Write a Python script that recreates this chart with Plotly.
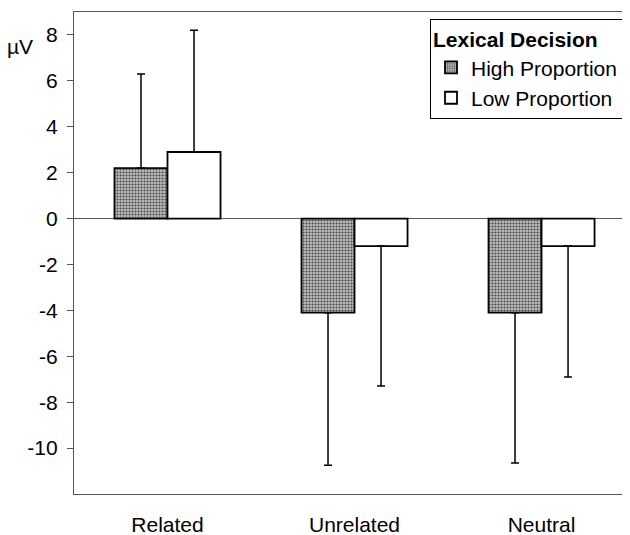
import plotly.graph_objects as go

categories = ["Related", "Unrelated", "Neutral"]
high_values = [2.2, -4.1, -4.1]
low_values = [2.9, -1.2, -1.2]
high_err_plus = [4.1, 0, 0]
high_err_minus = [0, 6.65, 6.55]
low_err_plus = [5.3, 0, 0]
low_err_minus = [0, 6.1, 5.7]
y_ticks = [8, 6, 4, 2, 0, -2, -4, -6, -8, -10]

FONT = "Liberation Sans, Arial, sans-serif"
OFF = 8  # default page body margin
W, H = 630 - OFF, 535 - OFF
L, T, PW, PH = 74 - OFF, 12 - OFF, 556, 482

fig = go.Figure()
fig.add_trace(go.Bar(
    x=categories, y=high_values, name="High Proportion",
    marker=dict(color="#9c9c9c", line=dict(color="black", width=1.8),
                pattern=dict(shape=".", bgcolor="#bdbdbd", fgcolor="#4a4a4a",
                             size=3, solidity=0.4, fillmode="replace")),
    error_y=dict(type="data", symmetric=False, array=high_err_plus,
                 arrayminus=high_err_minus, color="black", thickness=1.5, width=4),
))
fig.add_trace(go.Bar(
    x=categories, y=low_values, name="Low Proportion",
    marker=dict(color="white", line=dict(color="black", width=1.8)),
    error_y=dict(type="data", symmetric=False, array=low_err_plus,
                 arrayminus=low_err_minus, color="black", thickness=1.5, width=4),
))

fig.update_layout(
    width=W, height=H,
    margin=dict(l=L, r=W - L - PW, t=T, b=H - T - PH, autoexpand=False),
    paper_bgcolor="white", plot_bgcolor="white",
    barmode="group", bargap=0.433, bargroupgap=0,
    font=dict(family=FONT, size=21, color="black"),
    showlegend=True,
    legend=dict(
        title=dict(text="<b>Lexical Decision</b>", font=dict(size=21)),
        x=(623 - OFF - L) / PW, y=1 - (19 - OFF - T) / PH,
        xanchor="right", yanchor="top",
        bordercolor="black", borderwidth=1, bgcolor="white",
        font=dict(size=21), tracegroupgap=0, itemwidth=30,
    ),
    xaxis=dict(
        range=[-0.5, 2.473], showline=True, linecolor="#555", linewidth=1.2,
        mirror=True, ticks="", showgrid=False, zeroline=False,
        tickfont=dict(size=21), ticklabelstandoff=12,
    ),
    yaxis=dict(
        range=[-12, 9], tickvals=y_ticks, ticktext=[str(v) for v in y_ticks],
        showline=True, linecolor="#555", linewidth=1.2, mirror=True,
        ticks="outside", ticklen=6, tickcolor="#555",
        showgrid=False, zeroline=True, zerolinecolor="#555", zerolinewidth=1.2,
        tickfont=dict(size=21), ticklabelstandoff=5,
    ),
    annotations=[dict(text="µV", xref="paper", yref="paper",
                      x=(20 - OFF - L) / PW, y=1 - (47 - OFF - T) / PH,
                      xanchor="center", yanchor="middle",
                      showarrow=False, font=dict(size=21))],
)

fig.write_html("out.html")
